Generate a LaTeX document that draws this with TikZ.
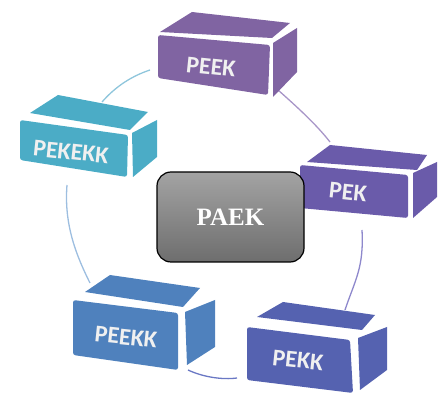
\documentclass[tikz,border=0pt]{standalone}
\usepackage{fontspec}
\setmainfont{Liberation Serif}
\newfontfamily\boxfont{Carlito}
\definecolor{cPEEK}{HTML}{8064A2}
\definecolor{cPEKEKK}{HTML}{4BACC6}
\definecolor{cPEK}{HTML}{6A5BAA}
\definecolor{cPEEKK}{HTML}{4F81BD}
\definecolor{cPEKK}{HTML}{5562B0}
\definecolor{lA}{HTML}{8FC6DC}
\definecolor{lB}{HTML}{A896C8}
\definecolor{lC}{HTML}{9DBEE0}
\definecolor{lD}{HTML}{8E88CC}
\definecolor{lE}{HTML}{6A78C4}
\tikzset{
  face/.style={fill=#1, draw=none},
  frontface/.style={fill=#1, draw=none, rounded corners=2.5pt},
  boxlabel/.style={text=white!94!black, font=\boxfont\bfseries\fontsize{24}{28}\selectfont, rotate=-6, inner sep=0pt},
  link/.style={line width=1.3pt, draw=#1},
  center/.style={draw=black, line width=1.2pt, rounded corners=14pt, top color=black!36, bottom color=black!57,
     minimum width=147pt, minimum height=90pt, text=white, font=\bfseries\fontsize{25}{30}\selectfont}
}
\begin{document}
\begin{tikzpicture}[x=1pt,y=-1pt]
\useasboundingbox (0,0) rectangle (445,395);
% connector end points
\coordinate (c1a) at (150,70);  \coordinate (c1b) at (102,102);
\coordinate (c2a) at (278,90);  \coordinate (c2b) at (330,142);
\coordinate (c3a) at (67,185);  \coordinate (c3b) at (90,283);
\coordinate (c4a) at (362,230); \coordinate (c4b) at (345,310);
\coordinate (c5a) at (188,370); \coordinate (c5b) at (237,378);
% connectors
\draw[link=lA] (c1a) .. controls +(-18,6) and +(14,-16) .. (c1b);
\draw[link=lB] (c2a) .. controls +(18,16) and +(-14,-18) .. (c2b);
\draw[link=lC] (c3a) .. controls +(-3,38) and +(-15,-30) .. (c3b);
\draw[link=lD] (c4a) .. controls +(2,38) and +(10,-30) .. (c4b);
\draw[link=lE] (c5a) .. controls +(15,7) and +(-15,2) .. (c5b);
% PEEK box
\fill[frontface=cPEEK] (158,35) -- (270,45) -- (268,95) -- (158,78) -- cycle;
\fill[face=cPEEK] (160,32) -- (272,38) -- (290,23) -- (192,12) -- cycle;
\fill[face=cPEEK] (273,43) -- (297,28) -- (297,72) -- (273,97) -- cycle;
\node[boxlabel] (peek) at (211,67) {PEEK};
% PEKEKK box
\fill[frontface=cPEKEKK] (20,120) -- (128,135) -- (127,177) -- (20,160) -- cycle;
\fill[face=cPEKEKK] (30,113) -- (130,130) -- (148,112) -- (58,95) -- cycle;
\fill[face=cPEKEKK] (132,133) -- (157,120) -- (157,157) -- (133,177) -- cycle;
\node[boxlabel] (pekekk) at (71,152) {PEKEKK};
% PEK box
\fill[frontface=cPEK] (300,165) -- (408,175) -- (408,218) -- (300,208) -- cycle;
\fill[face=cPEK] (307,162) -- (417,170) -- (427,155) -- (330,145) -- cycle;
\fill[face=cPEK] (413,173) -- (437,162) -- (437,197) -- (413,218) -- cycle;
\node[boxlabel] (pek) at (348,192) {PEK};
% PEEKK box
\fill[frontface=cPEEKK] (73,300) -- (178,313) -- (178,370) -- (73,355) -- cycle;
\fill[face=cPEEKK] (85,292) -- (183,307) -- (200,288) -- (110,275) -- cycle;
\fill[face=cPEEKK] (185,312) -- (215,300) -- (215,347) -- (187,365) -- cycle;
\node[boxlabel] (peekk) at (126,337) {PEEKK};
% PEKK box
\fill[frontface=cPEKK] (247,327) -- (350,340) -- (353,393) -- (247,380) -- cycle;
\fill[face=cPEKK] (257,317) -- (362,330) -- (375,315) -- (283,302) -- cycle;
\fill[face=cPEKK] (358,338) -- (387,327) -- (387,370) -- (360,390) -- cycle;
\node[boxlabel] (pekk) at (298,360) {PEKK};
% centre
\node[center] (paek) at (230.5,217) {PAEK};
\end{tikzpicture}
\end{document}
